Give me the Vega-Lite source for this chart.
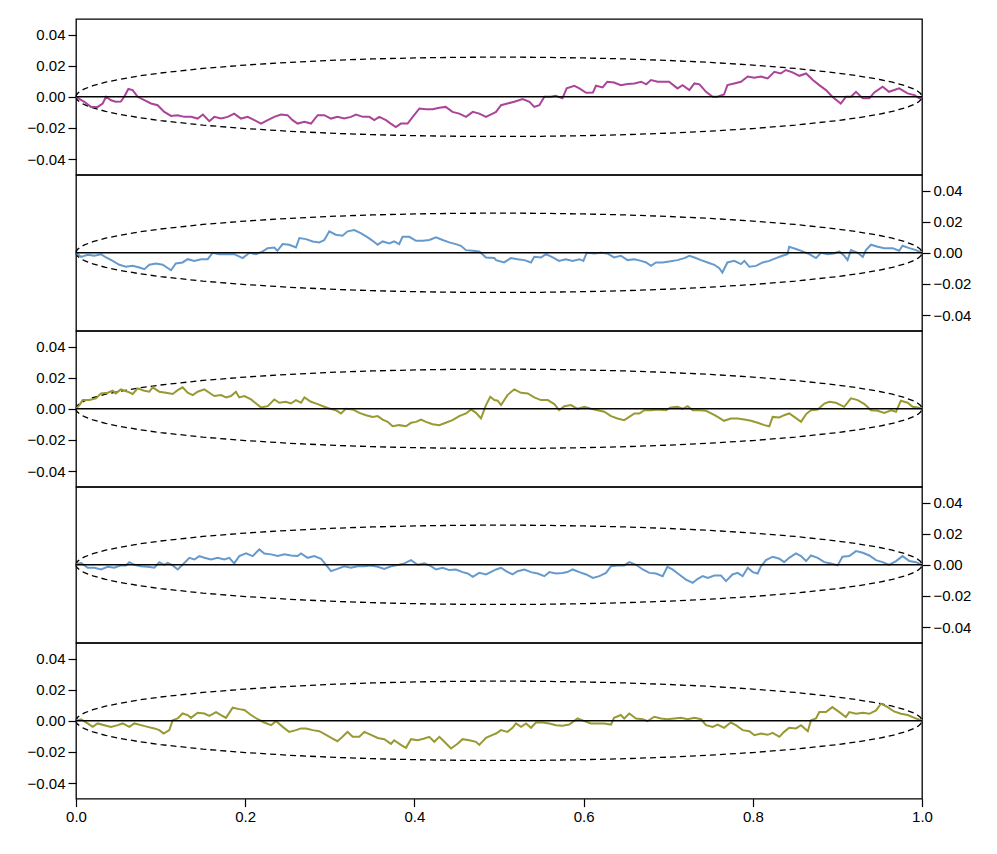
{
"$schema": "https://vega.github.io/schema/vega-lite/v6.json",
"autosize": {"type": "pad"},
"padding": {"left": 26, "top": 18, "right": 5, "bottom": 5},
"spacing": 0,
"bounds": "flush",
"config": {
  "view": {"stroke": "black", "strokeWidth": 1.3},
  "axis": {"labelFont": "Liberation Sans", "labelFontSize": 15, "labelColor": "black", "tickColor": "black", "tickSize": 8, "tickWidth": 1.2, "domain": false, "grid": false, "labelPadding": 3, "labelOverlap": false}
},
"datasets": {
"env": [
{"t":0,"y":0,"s":"u"},{"t":0.0005,"y":0.00114,"s":"u"},{"t":0.002,"y":0.00228,"s":"u"},{"t":0.005,"y":0.0036,"s":"u"},{"t":0.01,"y":0.00507,"s":"u"},{"t":0.02,"y":0.00714,"s":"u"},{"t":0.035,"y":0.00937,"s":"u"},{"t":0.05,"y":0.01111,"s":"u"},{"t":0.075,"y":0.01343,"s":"u"},{"t":0.1,"y":0.0153,"s":"u"},{"t":0.15,"y":0.01821,"s":"u"},{"t":0.2,"y":0.0204,"s":"u"},{"t":0.25,"y":0.02208,"s":"u"},{"t":0.3,"y":0.02337,"s":"u"},{"t":0.35,"y":0.02433,"s":"u"},{"t":0.4,"y":0.02498,"s":"u"},{"t":0.45,"y":0.02537,"s":"u"},{"t":0.5,"y":0.0255,"s":"u"},{"t":0.55,"y":0.02537,"s":"u"},{"t":0.6,"y":0.02498,"s":"u"},{"t":0.65,"y":0.02433,"s":"u"},{"t":0.7,"y":0.02337,"s":"u"},{"t":0.75,"y":0.02208,"s":"u"},{"t":0.8,"y":0.0204,"s":"u"},{"t":0.85,"y":0.01821,"s":"u"},{"t":0.9,"y":0.0153,"s":"u"},{"t":0.925,"y":0.01343,"s":"u"},{"t":0.95,"y":0.01111,"s":"u"},{"t":0.965,"y":0.00937,"s":"u"},{"t":0.98,"y":0.00714,"s":"u"},{"t":0.99,"y":0.00507,"s":"u"},{"t":0.995,"y":0.0036,"s":"u"},{"t":0.998,"y":0.00228,"s":"u"},{"t":0.9995,"y":0.00114,"s":"u"},{"t":1,"y":0,"s":"u"},
{"t":0,"y":0,"s":"l"},{"t":0.0005,"y":-0.00114,"s":"l"},{"t":0.002,"y":-0.00228,"s":"l"},{"t":0.005,"y":-0.0036,"s":"l"},{"t":0.01,"y":-0.00507,"s":"l"},{"t":0.02,"y":-0.00714,"s":"l"},{"t":0.035,"y":-0.00937,"s":"l"},{"t":0.05,"y":-0.01111,"s":"l"},{"t":0.075,"y":-0.01343,"s":"l"},{"t":0.1,"y":-0.0153,"s":"l"},{"t":0.15,"y":-0.01821,"s":"l"},{"t":0.2,"y":-0.0204,"s":"l"},{"t":0.25,"y":-0.02208,"s":"l"},{"t":0.3,"y":-0.02337,"s":"l"},{"t":0.35,"y":-0.02433,"s":"l"},{"t":0.4,"y":-0.02498,"s":"l"},{"t":0.45,"y":-0.02537,"s":"l"},{"t":0.5,"y":-0.0255,"s":"l"},{"t":0.55,"y":-0.02537,"s":"l"},{"t":0.6,"y":-0.02498,"s":"l"},{"t":0.65,"y":-0.02433,"s":"l"},{"t":0.7,"y":-0.02337,"s":"l"},{"t":0.75,"y":-0.02208,"s":"l"},{"t":0.8,"y":-0.0204,"s":"l"},{"t":0.85,"y":-0.01821,"s":"l"},{"t":0.9,"y":-0.0153,"s":"l"},{"t":0.925,"y":-0.01343,"s":"l"},{"t":0.95,"y":-0.01111,"s":"l"},{"t":0.965,"y":-0.00937,"s":"l"},{"t":0.98,"y":-0.00714,"s":"l"},{"t":0.99,"y":-0.00507,"s":"l"},{"t":0.995,"y":-0.0036,"s":"l"},{"t":0.998,"y":-0.00228,"s":"l"},{"t":0.9995,"y":-0.00114,"s":"l"},{"t":1,"y":0,"s":"l"}
],
"p1": [
{"t":0,"y":0},{"t":0.0098,"y":-0.0032},{"t":0.0177,"y":-0.0065},{"t":0.0256,"y":-0.0065},{"t":0.0315,"y":-0.0043},{"t":0.0355,"y":0},{"t":0.0414,"y":-0.0022},{"t":0.047,"y":-0.0032},{"t":0.053,"y":-0.003},{"t":0.057,"y":0},{"t":0.0619,"y":0.005},{"t":0.067,"y":0.0043},{"t":0.0729,"y":0},{"t":0.0808,"y":-0.0022},{"t":0.0887,"y":-0.0043},{"t":0.0965,"y":-0.0054},{"t":0.1044,"y":-0.0097},{"t":0.1123,"y":-0.0123},{"t":0.12,"y":-0.0118},{"t":0.128,"y":-0.0129},{"t":0.136,"y":-0.0129},{"t":0.1438,"y":-0.014},{"t":0.15,"y":-0.0114},{"t":0.1576,"y":-0.0157},{"t":0.1635,"y":-0.0129},{"t":0.1714,"y":-0.014},{"t":0.1793,"y":-0.0129},{"t":0.187,"y":-0.0108},{"t":0.195,"y":-0.014},{"t":0.203,"y":-0.0129},{"t":0.2108,"y":-0.015},{"t":0.2187,"y":-0.0172},{"t":0.2266,"y":-0.015},{"t":0.2344,"y":-0.0129},{"t":0.2423,"y":-0.0114},{"t":0.25,"y":-0.0118},{"t":0.256,"y":-0.015},{"t":0.262,"y":-0.0172},{"t":0.27,"y":-0.0161},{"t":0.2778,"y":-0.0172},{"t":0.2857,"y":-0.0118},{"t":0.2935,"y":-0.0118},{"t":0.3014,"y":-0.014},{"t":0.309,"y":-0.0129},{"t":0.317,"y":-0.014},{"t":0.325,"y":-0.0129},{"t":0.331,"y":-0.0114},{"t":0.339,"y":-0.0129},{"t":0.3467,"y":-0.0129},{"t":0.3526,"y":-0.015},{"t":0.3585,"y":-0.0129},{"t":0.3664,"y":-0.015},{"t":0.372,"y":-0.0172},{"t":0.378,"y":-0.0194},{"t":0.384,"y":-0.0172},{"t":0.392,"y":-0.0172},{"t":0.398,"y":-0.0129},{"t":0.406,"y":-0.0075},{"t":0.4137,"y":-0.008},{"t":0.4216,"y":-0.008},{"t":0.4295,"y":-0.0071},{"t":0.437,"y":-0.0065},{"t":0.445,"y":-0.0097},{"t":0.453,"y":-0.0108},{"t":0.461,"y":-0.0129},{"t":0.469,"y":-0.0097},{"t":0.4767,"y":-0.0108},{"t":0.4846,"y":-0.0129},{"t":0.4925,"y":-0.0108},{"t":0.4965,"y":-0.0097},{"t":0.5024,"y":-0.0054},{"t":0.51,"y":-0.0043},{"t":0.518,"y":-0.0032},{"t":0.528,"y":-0.0015},{"t":0.536,"y":-0.0032},{"t":0.5417,"y":-0.0065},{"t":0.5477,"y":-0.0054},{"t":0.5536,"y":0},{"t":0.5615,"y":0},{"t":0.567,"y":0.0006},{"t":0.575,"y":-0.001},{"t":0.58,"y":0.0054},{"t":0.589,"y":0.0071},{"t":0.595,"y":0.0054},{"t":0.603,"y":0.0026},{"t":0.611,"y":0.0028},{"t":0.6147,"y":0.0071},{"t":0.6225,"y":0.006},{"t":0.628,"y":0.0097},{"t":0.636,"y":0.0092},{"t":0.644,"y":0.0075},{"t":0.652,"y":0.0082},{"t":0.66,"y":0.0086},{"t":0.668,"y":0.0097},{"t":0.674,"y":0.008},{"t":0.6797,"y":0.0108},{"t":0.6876,"y":0.0097},{"t":0.695,"y":0.0097},{"t":0.701,"y":0.0097},{"t":0.711,"y":0.0054},{"t":0.717,"y":0.0075},{"t":0.725,"y":0.0043},{"t":0.731,"y":0.0086},{"t":0.737,"y":0.008},{"t":0.7447,"y":0.0032},{"t":0.7526,"y":0},{"t":0.758,"y":0},{"t":0.766,"y":0.0015},{"t":0.77,"y":0.0075},{"t":0.778,"y":0.0086},{"t":0.786,"y":0.0097},{"t":0.794,"y":0.013},{"t":0.8018,"y":0.0123},{"t":0.8097,"y":0.013},{"t":0.8176,"y":0.0118},{"t":0.8255,"y":0.0161},{"t":0.833,"y":0.015},{"t":0.839,"y":0.0172},{"t":0.847,"y":0.0157},{"t":0.855,"y":0.0135},{"t":0.863,"y":0.015},{"t":0.871,"y":0.0108},{"t":0.8786,"y":0.0075},{"t":0.8865,"y":0.0043},{"t":0.894,"y":0},{"t":0.904,"y":-0.0043},{"t":0.91,"y":0},{"t":0.916,"y":0},{"t":0.922,"y":0.0032},{"t":0.93,"y":-0.001},{"t":0.9377,"y":-0.001},{"t":0.9436,"y":0.0028},{"t":0.9535,"y":0.0065},{"t":0.961,"y":0.0032},{"t":0.973,"y":0.0054},{"t":0.983,"y":0.0022},{"t":0.991,"y":0.0011},{"t":0.997,"y":-0.001},{"t":1,"y":0}
],
"p2": [
{"t":0,"y":0},{"t":0.0059,"y":-0.0026},{"t":0.0138,"y":-0.0013},{"t":0.0217,"y":-0.0019},{"t":0.0296,"y":-0.0009},{"t":0.0355,"y":-0.003},{"t":0.0434,"y":-0.0052},{"t":0.0512,"y":-0.0077},{"t":0.059,"y":-0.009},{"t":0.067,"y":-0.0084},{"t":0.0749,"y":-0.0095},{"t":0.0808,"y":-0.0105},{"t":0.0867,"y":-0.0077},{"t":0.0946,"y":-0.0069},{"t":0.1025,"y":-0.0077},{"t":0.1123,"y":-0.0112},{"t":0.118,"y":-0.0069},{"t":0.126,"y":-0.0062},{"t":0.132,"y":-0.0041},{"t":0.14,"y":-0.0052},{"t":0.1478,"y":-0.0041},{"t":0.1557,"y":-0.0041},{"t":0.1615,"y":0},{"t":0.1694,"y":-0.0009},{"t":0.1773,"y":-0.0009},{"t":0.187,"y":-0.0009},{"t":0.197,"y":-0.0034},{"t":0.205,"y":0},{"t":0.2128,"y":-0.0009},{"t":0.2207,"y":0.0009},{"t":0.2266,"y":0.003},{"t":0.2344,"y":0.0034},{"t":0.238,"y":0.0013},{"t":0.2443,"y":0.0056},{"t":0.252,"y":0.0052},{"t":0.26,"y":0.0034},{"t":0.264,"y":0.0095},{"t":0.2719,"y":0.0088},{"t":0.2798,"y":0.0073},{"t":0.2876,"y":0.0067},{"t":0.2935,"y":0.0082},{"t":0.2994,"y":0.0138},{"t":0.307,"y":0.0116},{"t":0.315,"y":0.011},{"t":0.321,"y":0.0138},{"t":0.329,"y":0.0146},{"t":0.337,"y":0.0125},{"t":0.3448,"y":0.0099},{"t":0.3507,"y":0.0077},{"t":0.3566,"y":0.0052},{"t":0.3625,"y":0.0073},{"t":0.3704,"y":0.006},{"t":0.376,"y":0.0073},{"t":0.382,"y":0.0056},{"t":0.386,"y":0.0103},{"t":0.394,"y":0.0103},{"t":0.4019,"y":0.0077},{"t":0.4098,"y":0.0077},{"t":0.4176,"y":0.0082},{"t":0.4255,"y":0.0099},{"t":0.4334,"y":0.0082},{"t":0.4413,"y":0.0067},{"t":0.449,"y":0.0056},{"t":0.455,"y":0.0045},{"t":0.461,"y":0.0017},{"t":0.469,"y":0.0013},{"t":0.4767,"y":0.0009},{"t":0.4846,"y":-0.003},{"t":0.4945,"y":-0.0034},{"t":0.4965,"y":-0.0047},{"t":0.506,"y":-0.0062},{"t":0.514,"y":-0.0034},{"t":0.522,"y":-0.0041},{"t":0.53,"y":-0.0047},{"t":0.5378,"y":-0.0062},{"t":0.5417,"y":-0.0026},{"t":0.5496,"y":-0.003},{"t":0.5556,"y":-0.0009},{"t":0.5635,"y":-0.003},{"t":0.571,"y":-0.0052},{"t":0.579,"y":-0.0041},{"t":0.587,"y":-0.0052},{"t":0.595,"y":-0.0041},{"t":0.5997,"y":-0.0052},{"t":0.6037,"y":0},{"t":0.6127,"y":-0.0004},{"t":0.6206,"y":0},{"t":0.628,"y":-0.0004},{"t":0.636,"y":-0.003},{"t":0.644,"y":-0.0019},{"t":0.652,"y":-0.0047},{"t":0.66,"y":-0.0041},{"t":0.668,"y":-0.0052},{"t":0.674,"y":-0.0062},{"t":0.6797,"y":-0.0084},{"t":0.6856,"y":-0.0062},{"t":0.6935,"y":-0.0062},{"t":0.701,"y":-0.0056},{"t":0.711,"y":-0.0047},{"t":0.7191,"y":-0.0034},{"t":0.725,"y":-0.0019},{"t":0.731,"y":-0.003},{"t":0.7388,"y":-0.0047},{"t":0.7467,"y":-0.0062},{"t":0.7545,"y":-0.0077},{"t":0.7604,"y":-0.0099},{"t":0.764,"y":-0.0127},{"t":0.77,"y":-0.0062},{"t":0.778,"y":-0.0052},{"t":0.786,"y":-0.0073},{"t":0.79,"y":-0.0052},{"t":0.796,"y":-0.009},{"t":0.8038,"y":-0.0084},{"t":0.8117,"y":-0.0062},{"t":0.8195,"y":-0.0052},{"t":0.8274,"y":-0.0034},{"t":0.835,"y":-0.0019},{"t":0.841,"y":-0.0009},{"t":0.843,"y":0.0039},{"t":0.851,"y":0.0024},{"t":0.859,"y":0.0009},{"t":0.8667,"y":-0.0009},{"t":0.8747,"y":-0.0034},{"t":0.8806,"y":0},{"t":0.8885,"y":-0.0009},{"t":0.896,"y":-0.0004},{"t":0.9023,"y":0.0009},{"t":0.908,"y":-0.0019},{"t":0.912,"y":-0.0047},{"t":0.916,"y":0.0017},{"t":0.924,"y":0},{"t":0.93,"y":-0.0026},{"t":0.9338,"y":0.0017},{"t":0.9397,"y":0.0052},{"t":0.9476,"y":0.0039},{"t":0.9555,"y":0.003},{"t":0.9653,"y":0.003},{"t":0.973,"y":0.0013},{"t":0.977,"y":0.0045},{"t":0.985,"y":0.003},{"t":0.9929,"y":0.0017},{"t":1,"y":0}
],
"p3": [
{"t":0,"y":0},{"t":0.004,"y":0.0024},{"t":0.0079,"y":0.0056},{"t":0.0158,"y":0.0056},{"t":0.0236,"y":0.0067},{"t":0.0296,"y":0.0099},{"t":0.0374,"y":0.0103},{"t":0.0434,"y":0.0116},{"t":0.047,"y":0.0099},{"t":0.053,"y":0.0125},{"t":0.061,"y":0.011},{"t":0.067,"y":0.0095},{"t":0.0729,"y":0.0131},{"t":0.0808,"y":0.0116},{"t":0.0867,"y":0.011},{"t":0.0906,"y":0.0138},{"t":0.0985,"y":0.011},{"t":0.1064,"y":0.0103},{"t":0.1143,"y":0.0095},{"t":0.1202,"y":0.012},{"t":0.126,"y":0.0138},{"t":0.132,"y":0.0103},{"t":0.138,"y":0.0088},{"t":0.1438,"y":0.011},{"t":0.1517,"y":0.0125},{"t":0.1576,"y":0.0103},{"t":0.1635,"y":0.0082},{"t":0.1714,"y":0.0088},{"t":0.1773,"y":0.0073},{"t":0.1832,"y":0.0082},{"t":0.189,"y":0.011},{"t":0.193,"y":0.0073},{"t":0.199,"y":0.0082},{"t":0.2069,"y":0.006},{"t":0.2128,"y":0.0034},{"t":0.2187,"y":0.0009},{"t":0.2266,"y":0.0017},{"t":0.2344,"y":0.006},{"t":0.2403,"y":0.0039},{"t":0.248,"y":0.0045},{"t":0.254,"y":0.0034},{"t":0.26,"y":0.0056},{"t":0.266,"y":0.0039},{"t":0.27,"y":0.0073},{"t":0.2778,"y":0.0045},{"t":0.2857,"y":0.003},{"t":0.2935,"y":0.0013},{"t":0.2994,"y":0.0002},{"t":0.307,"y":-0.0009},{"t":0.3132,"y":-0.003},{"t":0.319,"y":0},{"t":0.327,"y":-0.0004},{"t":0.3349,"y":-0.0026},{"t":0.3428,"y":-0.0041},{"t":0.3507,"y":-0.0052},{"t":0.3566,"y":-0.0047},{"t":0.3625,"y":-0.0069},{"t":0.3684,"y":-0.0084},{"t":0.3743,"y":-0.0112},{"t":0.382,"y":-0.0105},{"t":0.39,"y":-0.0112},{"t":0.396,"y":-0.009},{"t":0.4019,"y":-0.0084},{"t":0.4078,"y":-0.0069},{"t":0.4137,"y":-0.0084},{"t":0.4216,"y":-0.0099},{"t":0.4295,"y":-0.0105},{"t":0.437,"y":-0.009},{"t":0.445,"y":-0.0073},{"t":0.453,"y":-0.0047},{"t":0.461,"y":-0.003},{"t":0.467,"y":-0.0004},{"t":0.4728,"y":-0.0026},{"t":0.4787,"y":-0.0062},{"t":0.4846,"y":0.0024},{"t":0.4897,"y":0.0077},{"t":0.4945,"y":0.0056},{"t":0.4985,"y":0.0052},{"t":0.5024,"y":0.0024},{"t":0.51,"y":0.0088},{"t":0.518,"y":0.0125},{"t":0.526,"y":0.0103},{"t":0.534,"y":0.0099},{"t":0.5417,"y":0.0073},{"t":0.5496,"y":0.0056},{"t":0.5576,"y":0.0056},{"t":0.5654,"y":0.003},{"t":0.571,"y":-0.0009},{"t":0.5772,"y":0.0017},{"t":0.585,"y":0.0024},{"t":0.593,"y":0},{"t":0.601,"y":0.0013},{"t":0.6087,"y":0},{"t":0.6166,"y":-0.0009},{"t":0.6245,"y":-0.0019},{"t":0.6324,"y":-0.0047},{"t":0.64,"y":-0.0062},{"t":0.648,"y":-0.0073},{"t":0.654,"y":-0.0052},{"t":0.66,"y":-0.003},{"t":0.6659,"y":-0.003},{"t":0.6718,"y":-0.0009},{"t":0.6797,"y":-0.0009},{"t":0.6876,"y":-0.0004},{"t":0.6974,"y":-0.0009},{"t":0.703,"y":0.0009},{"t":0.711,"y":0.0013},{"t":0.717,"y":0},{"t":0.723,"y":0.0017},{"t":0.729,"y":-0.0009},{"t":0.737,"y":-0.0009},{"t":0.7447,"y":-0.0013},{"t":0.7526,"y":-0.0034},{"t":0.7585,"y":-0.0052},{"t":0.766,"y":-0.0077},{"t":0.774,"y":-0.0062},{"t":0.782,"y":-0.0062},{"t":0.79,"y":-0.0069},{"t":0.7979,"y":-0.0077},{"t":0.8058,"y":-0.009},{"t":0.8136,"y":-0.0105},{"t":0.8195,"y":-0.0112},{"t":0.8235,"y":-0.0052},{"t":0.8314,"y":-0.0056},{"t":0.837,"y":-0.0041},{"t":0.843,"y":-0.003},{"t":0.849,"y":-0.0052},{"t":0.857,"y":-0.0084},{"t":0.863,"y":-0.0034},{"t":0.8688,"y":-0.0009},{"t":0.8767,"y":-0.0004},{"t":0.8846,"y":0.0034},{"t":0.8905,"y":0.0045},{"t":0.8983,"y":0.0039},{"t":0.908,"y":0.0013},{"t":0.916,"y":0.0067},{"t":0.924,"y":0.0056},{"t":0.932,"y":0.003},{"t":0.9397,"y":-0.0009},{"t":0.9476,"y":-0.0013},{"t":0.9555,"y":-0.0026},{"t":0.9634,"y":-0.0009},{"t":0.9693,"y":-0.0019},{"t":0.975,"y":0.0052},{"t":0.983,"y":0.0039},{"t":0.989,"y":0.0013},{"t":0.995,"y":0.0009},{"t":1,"y":0}
],
"p4": [
{"t":0,"y":0},{"t":0.0059,"y":0.0013},{"t":0.0138,"y":-0.0019},{"t":0.0217,"y":-0.0019},{"t":0.0296,"y":-0.003},{"t":0.0374,"y":-0.0013},{"t":0.0453,"y":-0.0019},{"t":0.053,"y":-0.0004},{"t":0.059,"y":-0.0004},{"t":0.063,"y":0.0017},{"t":0.069,"y":0},{"t":0.0768,"y":-0.0009},{"t":0.0847,"y":-0.0013},{"t":0.0926,"y":-0.0019},{"t":0.0985,"y":0.0017},{"t":0.1044,"y":0},{"t":0.1084,"y":0.0013},{"t":0.1143,"y":-0.0004},{"t":0.1202,"y":-0.003},{"t":0.126,"y":0},{"t":0.134,"y":0.0045},{"t":0.14,"y":0.0034},{"t":0.1458,"y":0.0056},{"t":0.1517,"y":0.0045},{"t":0.1596,"y":0.0034},{"t":0.1675,"y":0.0045},{"t":0.1753,"y":0.0034},{"t":0.1812,"y":0.0045},{"t":0.187,"y":0.0009},{"t":0.193,"y":0.0056},{"t":0.201,"y":0.0073},{"t":0.2088,"y":0.0056},{"t":0.2167,"y":0.0099},{"t":0.2226,"y":0.0073},{"t":0.2305,"y":0.0067},{"t":0.2384,"y":0.0056},{"t":0.2463,"y":0.0067},{"t":0.254,"y":0.006},{"t":0.262,"y":0.0056},{"t":0.266,"y":0.0073},{"t":0.2738,"y":0.0045},{"t":0.2817,"y":0.0056},{"t":0.2896,"y":0.0039},{"t":0.2955,"y":0},{"t":0.3014,"y":-0.0041},{"t":0.309,"y":-0.0026},{"t":0.317,"y":-0.0009},{"t":0.325,"y":-0.0019},{"t":0.333,"y":-0.0009},{"t":0.3408,"y":-0.0009},{"t":0.3487,"y":-0.0004},{"t":0.3566,"y":-0.0013},{"t":0.3644,"y":-0.0026},{"t":0.3723,"y":-0.0009},{"t":0.382,"y":0},{"t":0.388,"y":0.0009},{"t":0.396,"y":0.003},{"t":0.4039,"y":0},{"t":0.4117,"y":0.0009},{"t":0.4196,"y":-0.0009},{"t":0.4255,"y":-0.003},{"t":0.4334,"y":-0.0019},{"t":0.4413,"y":-0.0034},{"t":0.449,"y":-0.003},{"t":0.457,"y":-0.0047},{"t":0.463,"y":-0.0056},{"t":0.469,"y":-0.0077},{"t":0.4767,"y":-0.0052},{"t":0.4846,"y":-0.0062},{"t":0.4925,"y":-0.0041},{"t":0.4965,"y":-0.003},{"t":0.5024,"y":-0.0019},{"t":0.5083,"y":-0.0041},{"t":0.516,"y":-0.0062},{"t":0.522,"y":-0.0041},{"t":0.53,"y":-0.003},{"t":0.5378,"y":-0.0047},{"t":0.5457,"y":-0.0056},{"t":0.5536,"y":-0.0073},{"t":0.5595,"y":-0.0047},{"t":0.5674,"y":-0.0056},{"t":0.575,"y":-0.0052},{"t":0.581,"y":-0.0047},{"t":0.587,"y":-0.003},{"t":0.595,"y":-0.0047},{"t":0.603,"y":-0.0062},{"t":0.611,"y":-0.0084},{"t":0.6186,"y":-0.0073},{"t":0.6265,"y":-0.0052},{"t":0.6324,"y":-0.0009},{"t":0.64,"y":-0.0004},{"t":0.648,"y":-0.0004},{"t":0.654,"y":0.0017},{"t":0.662,"y":0},{"t":0.67,"y":-0.003},{"t":0.6777,"y":-0.0052},{"t":0.6856,"y":-0.0056},{"t":0.6935,"y":-0.0073},{"t":0.699,"y":-0.0013},{"t":0.705,"y":-0.003},{"t":0.713,"y":-0.0062},{"t":0.721,"y":-0.0095},{"t":0.729,"y":-0.0116},{"t":0.735,"y":-0.009},{"t":0.7408,"y":-0.0073},{"t":0.7467,"y":-0.0084},{"t":0.7545,"y":-0.0069},{"t":0.7624,"y":-0.0069},{"t":0.7683,"y":-0.0105},{"t":0.776,"y":-0.0062},{"t":0.782,"y":-0.0052},{"t":0.788,"y":-0.0073},{"t":0.794,"y":-0.0019},{"t":0.8,"y":-0.0047},{"t":0.8058,"y":-0.0056},{"t":0.8097,"y":-0.0009},{"t":0.8156,"y":0.003},{"t":0.8235,"y":0.0052},{"t":0.8314,"y":0.0039},{"t":0.837,"y":0.0017},{"t":0.843,"y":0.0045},{"t":0.851,"y":0.0073},{"t":0.857,"y":0.0056},{"t":0.863,"y":0.0024},{"t":0.8688,"y":0.006},{"t":0.8767,"y":0.0045},{"t":0.8846,"y":0.0017},{"t":0.8924,"y":0.0009},{"t":0.9003,"y":-0.0004},{"t":0.906,"y":0.0052},{"t":0.914,"y":0.0056},{"t":0.922,"y":0.0088},{"t":0.93,"y":0.0077},{"t":0.9377,"y":0.006},{"t":0.9456,"y":0.003},{"t":0.9535,"y":0.0017},{"t":0.961,"y":0},{"t":0.9693,"y":0.0024},{"t":0.977,"y":0.0056},{"t":0.985,"y":0.0024},{"t":0.9929,"y":0.0017},{"t":1,"y":0}
],
"p5": [
{"t":0,"y":0},{"t":0.0059,"y":0.001},{"t":0.0138,"y":-0.0017},{"t":0.0197,"y":-0.0039},{"t":0.0256,"y":-0.0017},{"t":0.0335,"y":-0.0028},{"t":0.0414,"y":-0.0039},{"t":0.0493,"y":-0.0028},{"t":0.0552,"y":-0.0017},{"t":0.063,"y":-0.0039},{"t":0.069,"y":-0.0017},{"t":0.0768,"y":-0.0028},{"t":0.0847,"y":-0.0039},{"t":0.0926,"y":-0.0049},{"t":0.0985,"y":-0.006},{"t":0.1036,"y":-0.0082},{"t":0.1103,"y":-0.006},{"t":0.1143,"y":0.0004},{"t":0.1202,"y":0.0015},{"t":0.126,"y":0.0047},{"t":0.132,"y":0.0037},{"t":0.1359,"y":0.0019},{"t":0.1438,"y":0.0052},{"t":0.1517,"y":0.0047},{"t":0.1576,"y":0.0032},{"t":0.1655,"y":0.0056},{"t":0.1714,"y":0.0037},{"t":0.1773,"y":0.0019},{"t":0.1852,"y":0.0084},{"t":0.193,"y":0.0075},{"t":0.199,"y":0.0069},{"t":0.2069,"y":0.0037},{"t":0.2148,"y":0.001},{"t":0.2226,"y":-0.0011},{"t":0.2305,"y":-0.0028},{"t":0.2364,"y":-0.0002},{"t":0.2443,"y":-0.0039},{"t":0.252,"y":-0.0071},{"t":0.26,"y":-0.006},{"t":0.266,"y":-0.0049},{"t":0.2719,"y":-0.0049},{"t":0.2798,"y":-0.006},{"t":0.2876,"y":-0.0067},{"t":0.2955,"y":-0.009},{"t":0.3034,"y":-0.0114},{"t":0.309,"y":-0.0131},{"t":0.315,"y":-0.0103},{"t":0.321,"y":-0.0071},{"t":0.327,"y":-0.0103},{"t":0.3349,"y":-0.0103},{"t":0.3408,"y":-0.0071},{"t":0.3487,"y":-0.009},{"t":0.3566,"y":-0.011},{"t":0.3644,"y":-0.0118},{"t":0.3723,"y":-0.0148},{"t":0.376,"y":-0.0125},{"t":0.384,"y":-0.0155},{"t":0.39,"y":-0.0174},{"t":0.396,"y":-0.0118},{"t":0.4039,"y":-0.0125},{"t":0.4117,"y":-0.0114},{"t":0.4176,"y":-0.0103},{"t":0.4235,"y":-0.0135},{"t":0.4295,"y":-0.0103},{"t":0.4354,"y":-0.0135},{"t":0.4433,"y":-0.0178},{"t":0.451,"y":-0.0148},{"t":0.457,"y":-0.0118},{"t":0.4649,"y":-0.0125},{"t":0.4728,"y":-0.0135},{"t":0.4767,"y":-0.0155},{"t":0.4846,"y":-0.011},{"t":0.4925,"y":-0.009},{"t":0.4965,"y":-0.0082},{"t":0.5024,"y":-0.006},{"t":0.51,"y":-0.0071},{"t":0.516,"y":-0.0045},{"t":0.5201,"y":-0.0017},{"t":0.526,"y":-0.0039},{"t":0.532,"y":-0.0017},{"t":0.5378,"y":-0.0045},{"t":0.5437,"y":-0.0011},{"t":0.5516,"y":-0.0011},{"t":0.5595,"y":-0.0017},{"t":0.5674,"y":-0.0028},{"t":0.575,"y":-0.0032},{"t":0.583,"y":-0.0024},{"t":0.593,"y":0.0015},{"t":0.601,"y":-0.0002},{"t":0.6087,"y":-0.0017},{"t":0.6166,"y":-0.0017},{"t":0.6245,"y":-0.0017},{"t":0.6324,"y":-0.0024},{"t":0.636,"y":0.0019},{"t":0.644,"y":0.0037},{"t":0.648,"y":0.0015},{"t":0.654,"y":0.0047},{"t":0.662,"y":0.0015},{"t":0.67,"y":0.001},{"t":0.6757,"y":-0.0002},{"t":0.6836,"y":0.0026},{"t":0.6915,"y":0.0015},{"t":0.699,"y":0.001},{"t":0.7072,"y":0.0015},{"t":0.715,"y":0.0019},{"t":0.723,"y":0.001},{"t":0.731,"y":0.0019},{"t":0.7388,"y":0.001},{"t":0.7447,"y":-0.0028},{"t":0.7526,"y":-0.0039},{"t":0.7585,"y":-0.0024},{"t":0.766,"y":-0.0045},{"t":0.774,"y":-0.0011},{"t":0.78,"y":-0.0028},{"t":0.788,"y":-0.006},{"t":0.796,"y":-0.0067},{"t":0.8018,"y":-0.0093},{"t":0.8097,"y":-0.0082},{"t":0.8176,"y":-0.009},{"t":0.8235,"y":-0.0077},{"t":0.8314,"y":-0.0103},{"t":0.837,"y":-0.0071},{"t":0.843,"y":-0.0045},{"t":0.851,"y":-0.0049},{"t":0.857,"y":-0.0028},{"t":0.865,"y":-0.0067},{"t":0.8688,"y":0.0004},{"t":0.8747,"y":0.0015},{"t":0.8786,"y":0.0056},{"t":0.8865,"y":0.0056},{"t":0.894,"y":0.0088},{"t":0.9023,"y":0.0056},{"t":0.91,"y":0.0024},{"t":0.914,"y":0.0056},{"t":0.922,"y":0.0045},{"t":0.93,"y":0.0052},{"t":0.9377,"y":0.0045},{"t":0.9456,"y":0.0067},{"t":0.9515,"y":0.011},{"t":0.9594,"y":0.0088},{"t":0.967,"y":0.006},{"t":0.975,"y":0.0045},{"t":0.983,"y":0.0037},{"t":0.991,"y":0.0019},{"t":1,"y":0}
]
},
"vconcat": [
{"width": 846, "height": 155.6, "layer": [
  {"data": {"name": "env"}, "mark": {"type": "line", "stroke": "black", "strokeWidth": 1.3, "strokeDash": [6, 4]}, "encoding": {"x": {"field": "t", "type": "quantitative", "scale": {"domain": [0, 1], "nice": false}, "axis": null}, "y": {"field": "y", "type": "quantitative", "scale": {"domain": [-0.05, 0.05], "nice": false}, "axis": {"orient": "left", "values": [-0.04, -0.02, 0, 0.02, 0.04], "format": ".2f", "title": null, "labelFont": "Liberation Sans", "labelFontSize": 15, "labelOverlap": false, "tickSize": 8, "labelPadding": 3}}, "detail": {"field": "s"}}},
  {"data": {"name": "p1"}, "mark": {"type": "line", "stroke": "#AA4499", "strokeWidth": 2}, "encoding": {"x": {"field": "t", "type": "quantitative", "axis": null}, "y": {"field": "y", "type": "quantitative", "axis": {"orient": "left", "values": [-0.04, -0.02, 0, 0.02, 0.04], "format": ".2f", "title": null, "labelFont": "Liberation Sans", "labelFontSize": 15, "labelOverlap": false, "tickSize": 8, "labelPadding": 3}}}},
  {"data": {"values": [{}]}, "mark": {"type": "rule", "stroke": "black", "strokeWidth": 1.5}, "encoding": {"y": {"datum": 0, "type": "quantitative", "axis": {"orient": "left", "values": [-0.04, -0.02, 0, 0.02, 0.04], "format": ".2f", "title": null, "labelFont": "Liberation Sans", "labelFontSize": 15, "labelOverlap": false, "tickSize": 8, "labelPadding": 3}}}}
]},
{"width": 846, "height": 155.6, "layer": [
  {"data": {"name": "env"}, "mark": {"type": "line", "stroke": "black", "strokeWidth": 1.3, "strokeDash": [6, 4]}, "encoding": {"x": {"field": "t", "type": "quantitative", "scale": {"domain": [0, 1], "nice": false}, "axis": null}, "y": {"field": "y", "type": "quantitative", "scale": {"domain": [-0.05, 0.05], "nice": false}, "axis": {"orient": "right", "values": [-0.04, -0.02, 0, 0.02, 0.04], "format": ".2f", "title": null, "labelFont": "Liberation Sans", "labelFontSize": 15, "labelOverlap": false, "tickSize": 8, "labelPadding": 3}}, "detail": {"field": "s"}}},
  {"data": {"name": "p2"}, "mark": {"type": "line", "stroke": "#6699CC", "strokeWidth": 2}, "encoding": {"x": {"field": "t", "type": "quantitative", "axis": null}, "y": {"field": "y", "type": "quantitative", "axis": {"orient": "right", "values": [-0.04, -0.02, 0, 0.02, 0.04], "format": ".2f", "title": null, "labelFont": "Liberation Sans", "labelFontSize": 15, "labelOverlap": false, "tickSize": 8, "labelPadding": 3}}}},
  {"data": {"values": [{}]}, "mark": {"type": "rule", "stroke": "black", "strokeWidth": 1.5}, "encoding": {"y": {"datum": 0, "type": "quantitative", "axis": {"orient": "right", "values": [-0.04, -0.02, 0, 0.02, 0.04], "format": ".2f", "title": null, "labelFont": "Liberation Sans", "labelFontSize": 15, "labelOverlap": false, "tickSize": 8, "labelPadding": 3}}}}
]},
{"width": 846, "height": 155.6, "layer": [
  {"data": {"name": "env"}, "mark": {"type": "line", "stroke": "black", "strokeWidth": 1.3, "strokeDash": [6, 4]}, "encoding": {"x": {"field": "t", "type": "quantitative", "scale": {"domain": [0, 1], "nice": false}, "axis": null}, "y": {"field": "y", "type": "quantitative", "scale": {"domain": [-0.05, 0.05], "nice": false}, "axis": {"orient": "left", "values": [-0.04, -0.02, 0, 0.02, 0.04], "format": ".2f", "title": null, "labelFont": "Liberation Sans", "labelFontSize": 15, "labelOverlap": false, "tickSize": 8, "labelPadding": 3}}, "detail": {"field": "s"}}},
  {"data": {"name": "p3"}, "mark": {"type": "line", "stroke": "#999933", "strokeWidth": 2}, "encoding": {"x": {"field": "t", "type": "quantitative", "axis": null}, "y": {"field": "y", "type": "quantitative", "axis": {"orient": "left", "values": [-0.04, -0.02, 0, 0.02, 0.04], "format": ".2f", "title": null, "labelFont": "Liberation Sans", "labelFontSize": 15, "labelOverlap": false, "tickSize": 8, "labelPadding": 3}}}},
  {"data": {"values": [{}]}, "mark": {"type": "rule", "stroke": "black", "strokeWidth": 1.5}, "encoding": {"y": {"datum": 0, "type": "quantitative", "axis": {"orient": "left", "values": [-0.04, -0.02, 0, 0.02, 0.04], "format": ".2f", "title": null, "labelFont": "Liberation Sans", "labelFontSize": 15, "labelOverlap": false, "tickSize": 8, "labelPadding": 3}}}}
]},
{"width": 846, "height": 155.6, "layer": [
  {"data": {"name": "env"}, "mark": {"type": "line", "stroke": "black", "strokeWidth": 1.3, "strokeDash": [6, 4]}, "encoding": {"x": {"field": "t", "type": "quantitative", "scale": {"domain": [0, 1], "nice": false}, "axis": null}, "y": {"field": "y", "type": "quantitative", "scale": {"domain": [-0.05, 0.05], "nice": false}, "axis": {"orient": "right", "values": [-0.04, -0.02, 0, 0.02, 0.04], "format": ".2f", "title": null, "labelFont": "Liberation Sans", "labelFontSize": 15, "labelOverlap": false, "tickSize": 8, "labelPadding": 3}}, "detail": {"field": "s"}}},
  {"data": {"name": "p4"}, "mark": {"type": "line", "stroke": "#6699CC", "strokeWidth": 2}, "encoding": {"x": {"field": "t", "type": "quantitative", "axis": null}, "y": {"field": "y", "type": "quantitative", "axis": {"orient": "right", "values": [-0.04, -0.02, 0, 0.02, 0.04], "format": ".2f", "title": null, "labelFont": "Liberation Sans", "labelFontSize": 15, "labelOverlap": false, "tickSize": 8, "labelPadding": 3}}}},
  {"data": {"values": [{}]}, "mark": {"type": "rule", "stroke": "black", "strokeWidth": 1.5}, "encoding": {"y": {"datum": 0, "type": "quantitative", "axis": {"orient": "right", "values": [-0.04, -0.02, 0, 0.02, 0.04], "format": ".2f", "title": null, "labelFont": "Liberation Sans", "labelFontSize": 15, "labelOverlap": false, "tickSize": 8, "labelPadding": 3}}}}
]},
{"width": 846, "height": 155.6, "layer": [
  {"data": {"name": "env"}, "mark": {"type": "line", "stroke": "black", "strokeWidth": 1.3, "strokeDash": [6, 4]}, "encoding": {"x": {"field": "t", "type": "quantitative", "scale": {"domain": [0, 1], "nice": false}, "axis": {"orient": "bottom", "values": [0, 0.2, 0.4, 0.6, 0.8, 1], "format": ".1f", "labelFlush": false, "title": null, "labelFont": "Liberation Sans", "labelFontSize": 15, "labelOverlap": false, "tickSize": 8, "labelPadding": 3}}, "y": {"field": "y", "type": "quantitative", "scale": {"domain": [-0.05, 0.05], "nice": false}, "axis": {"orient": "left", "values": [-0.04, -0.02, 0, 0.02, 0.04], "format": ".2f", "title": null, "labelFont": "Liberation Sans", "labelFontSize": 15, "labelOverlap": false, "tickSize": 8, "labelPadding": 3}}, "detail": {"field": "s"}}},
  {"data": {"name": "p5"}, "mark": {"type": "line", "stroke": "#999933", "strokeWidth": 2}, "encoding": {"x": {"field": "t", "type": "quantitative", "axis": {"orient": "bottom", "values": [0, 0.2, 0.4, 0.6, 0.8, 1], "format": ".1f", "labelFlush": false, "title": null, "labelFont": "Liberation Sans", "labelFontSize": 15, "labelOverlap": false, "tickSize": 8, "labelPadding": 3}}, "y": {"field": "y", "type": "quantitative", "axis": {"orient": "left", "values": [-0.04, -0.02, 0, 0.02, 0.04], "format": ".2f", "title": null, "labelFont": "Liberation Sans", "labelFontSize": 15, "labelOverlap": false, "tickSize": 8, "labelPadding": 3}}}},
  {"data": {"values": [{}]}, "mark": {"type": "rule", "stroke": "black", "strokeWidth": 1.5}, "encoding": {"y": {"datum": 0, "type": "quantitative", "axis": {"orient": "left", "values": [-0.04, -0.02, 0, 0.02, 0.04], "format": ".2f", "title": null, "labelFont": "Liberation Sans", "labelFontSize": 15, "labelOverlap": false, "tickSize": 8, "labelPadding": 3}}}}
]}
]
}
